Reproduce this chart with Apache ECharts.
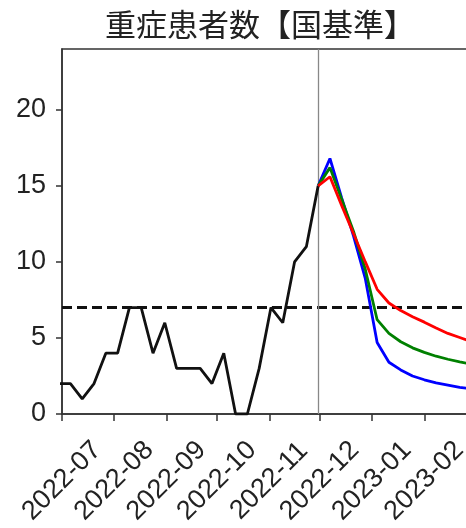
<!DOCTYPE html>
<html>
<head>
<meta charset="utf-8">
<script src="https://cdn.jsdelivr.net/npm/echarts@6/dist/echarts.min.js"></script>
<style>
html,body{margin:0;padding:0;background:#fff;}
#chart{width:466px;height:528px;}
</style>
</head>
<body>
<div id="chart"></div>
<script>
// ---- data ----
const titleText = '重症患者数【国基準】';
const actualDates = ['2022-06-29','2022-07-06','2022-07-13','2022-07-20','2022-07-27','2022-08-03','2022-08-10','2022-08-17','2022-08-24','2022-08-31','2022-09-07','2022-09-14','2022-09-21','2022-09-28','2022-10-05','2022-10-12','2022-10-19','2022-10-26','2022-11-02','2022-11-09','2022-11-16','2022-11-23','2022-11-30'];
const actualValues = [2,2,1,2,4,4,7,7,4,6,3,3,3,2,4,0,0,3,7,6,10,11,15];
const forecastDates = ['2022-11-30','2022-12-07','2022-12-14','2022-12-21','2022-12-28','2023-01-04','2023-01-11','2023-01-18','2023-01-25','2023-02-01','2023-02-08','2023-02-15','2023-02-22','2023-03-01'];
const blueValues  = [15,16.8,14.2,11.7,8.9,4.7,3.4,2.9,2.5,2.25,2.05,1.9,1.75,1.65];
const greenValues = [15,16.2,14.1,12.0,9.5,6.2,5.3,4.75,4.35,4.05,3.8,3.6,3.43,3.28];
const redValues   = [15,15.6,13.7,11.85,10.0,8.2,7.3,6.8,6.4,6.04,5.66,5.3,5.03,4.75];
const thresholdValue = 7;
const nowDate = '2022-11-30';
const xTickLabels = ['2022-07','2022-08','2022-09','2022-10','2022-11','2022-12','2023-01','2023-02'];
const yTickValues = [0,5,10,15,20];
const xMin = '2022-07-01', xMax = '2023-03-01';
const yMin = 0, yMax = 24;

// ---- helpers ----
function toTs(s){ const p = s.split('-').map(Number); return Date.UTC(p[0], p[1]-1, p[2] || 1); }
function pairs(dates, vals){ return dates.map((d,i)=>[toTs(d), vals[i]]); }
const xTickValues = xTickLabels.map(toTs);
const labelByTs = {};
xTickLabels.forEach((l,i)=>{ labelByTs[xTickValues[i]] = l; });

const chart = echarts.init(document.getElementById('chart'), null, {renderer:'canvas'});
const font = 'Liberation Sans, Arial, sans-serif';
const lineSeries = (name, data, color, z) => ({
  name, type:'line', data, showSymbol:false, symbol:'none', clip:true, z,
  lineStyle:{color, width:2.8}, itemStyle:{color}, emphasis:{disabled:true}, silent:true
});

chart.setOption({
  animation:false,
  backgroundColor:'#fff',
  title:{
    text:titleText, left:255, top:4, textAlign:'center',
    textStyle:{fontFamily:'Noto Sans CJK JP', fontSize:31, fontWeight:'normal', color:'#222'}
  },
  grid:{left:62, top:49, right:-5.5, bottom:114, show:true, borderColor:'#333', borderWidth:1.5, backgroundColor:'transparent', containLabel:false, outerBoundsMode:'none'},
  xAxis:{
    type:'value', min:toTs(xMin), max:toTs(xMax),
    axisLine:{show:true, lineStyle:{color:'#333', width:1.5}},
    axisTick:{show:true, length:7, lineStyle:{color:'#333', width:1.5}, customValues:xTickValues},
    axisLabel:{
      customValues:xTickValues, rotate:45, align:'center', verticalAlign:'middle', margin:67,
      fontFamily:font, fontSize:27, color:'#222', hideOverlap:false,
      formatter:function(v){ return labelByTs[v] || ''; }
    },
    splitLine:{show:false}
  },
  yAxis:{
    type:'value', min:yMin, max:yMax,
    axisLine:{show:true, lineStyle:{color:'#333', width:1.5}},
    axisTick:{show:true, length:6, lineStyle:{color:'#333', width:1.5}, customValues:yTickValues},
    axisLabel:{customValues:yTickValues, margin:16, fontFamily:font, fontSize:27, color:'#222'},
    splitLine:{show:false}
  },
  series:[
    Object.assign(lineSeries('actual', pairs(actualDates, actualValues), '#111', 5), {
      markLine:{
        silent:true, symbol:['none','none'], label:{show:false},
        data:[
          {yAxis:thresholdValue, lineStyle:{color:'#111', width:2.8, type:[10,5]}},
          {xAxis:toTs(nowDate), lineStyle:{color:'#888', width:1.3, type:'solid'}}
        ]
      }
    }),
    lineSeries('blue', pairs(forecastDates, blueValues), '#0000ff', 6),
    lineSeries('green', pairs(forecastDates, greenValues), '#008000', 7),
    lineSeries('red', pairs(forecastDates, redValues), '#ff0000', 8)
  ]
});
</script>
</body>
</html>
